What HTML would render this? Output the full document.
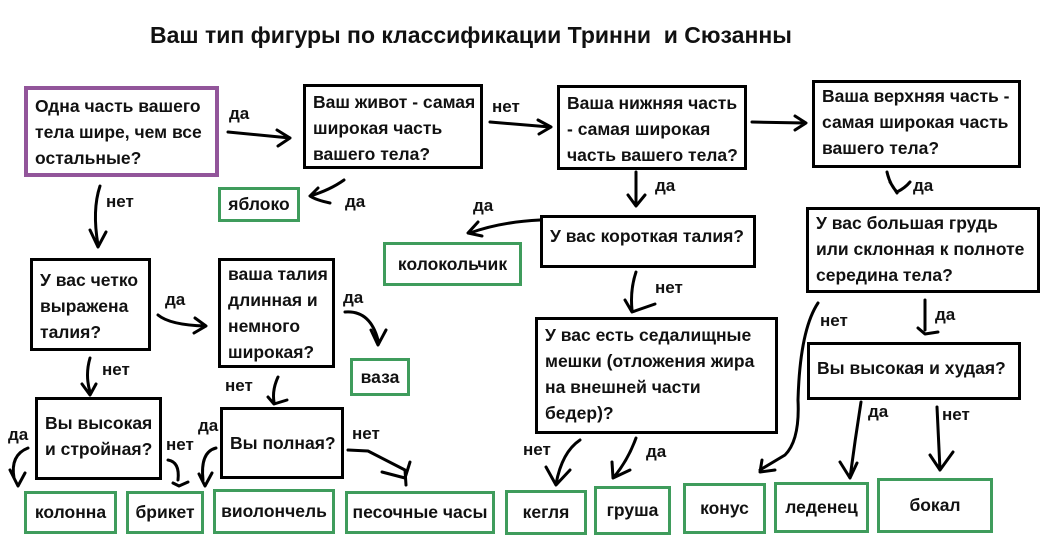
<!DOCTYPE html>
<html><head><meta charset="utf-8"><style>
body{margin:0;width:1050px;height:554px;background:#fff;position:relative;overflow:hidden;font-family:"Liberation Sans","DejaVu Sans",sans-serif;font-weight:bold;color:#111}
.b{position:absolute;border:3px solid #000;box-sizing:border-box;font-size:17.5px;line-height:26px;padding:3px 7px;white-space:nowrap}
.g{position:absolute;border:3px solid #3f9c5c;box-sizing:border-box;font-size:17.5px;display:flex;align-items:center;justify-content:center}
.l{position:absolute;font-size:17px}
svg{position:absolute;left:0;top:0}
</style></head><body>
<div class="l" style="left:150px;top:22px;font-size:23px">Ваш тип фигуры по классификации Тринни&nbsp; и Сюзанны</div>
<div class="b" style="left:24px;top:86px;width:195px;height:91px;border:4px solid #92559a;padding-top:3px">Одна часть вашего<br>тела шире, чем все<br>остальные?</div>
<div class="b" style="left:303px;top:84px;width:180px;height:85px;padding-top:2px">Ваш живот - самая<br>широкая часть<br>вашего тела?</div>
<div class="b" style="left:557px;top:85px;width:190px;height:85px;padding-top:2px">Ваша нижняя часть<br>- самая широкая<br>часть вашего тела?</div>
<div class="b" style="left:812px;top:80px;width:209px;height:88px;padding-top:0px">Ваша верхняя часть -<br>самая широкая часть<br>вашего тела?</div>
<div class="b" style="left:540px;top:215px;width:216px;height:53px;padding-top:5px">У вас короткая талия?</div>
<div class="b" style="left:806px;top:207px;width:234px;height:86px;padding-top:0px">У вас большая грудь<br>или склонная к полноте<br>середина тела?</div>
<div class="b" style="left:807px;top:342px;width:214px;height:58px;padding-top:10px">Вы высокая и худая?</div>
<div class="b" style="left:535px;top:317px;width:243px;height:117px;padding-top:2px">У вас есть седалищные<br>мешки (отложения жира<br>на внешней части<br>бедер)?</div>
<div class="b" style="left:30px;top:258px;width:121px;height:93px;padding-top:6px">У вас четко<br>выражена<br>талия?</div>
<div class="b" style="left:218px;top:258px;width:117px;height:110px;padding-top:0px">ваша талия<br>длинная и<br>немного<br>широкая?</div>
<div class="b" style="left:35px;top:397px;width:127px;height:83px;padding-top:10px">Вы высокая<br>и стройная?</div>
<div class="b" style="left:220px;top:407px;width:124px;height:72px;padding-top:20px">Вы полная?</div>
<div class="g" style="left:218px;top:187px;width:82px;height:35px">яблоко</div>
<div class="g" style="left:383px;top:242px;width:139px;height:44px">колокольчик</div>
<div class="g" style="left:350px;top:358px;width:60px;height:38px">ваза</div>
<div class="g" style="left:24px;top:491px;width:93px;height:43px">колонна</div>
<div class="g" style="left:126px;top:491px;width:78px;height:43px">брикет</div>
<div class="g" style="left:213px;top:489px;width:122px;height:45px">виолончель</div>
<div class="g" style="left:345px;top:491px;width:150px;height:43px">песочные часы</div>
<div class="g" style="left:505px;top:490px;width:82px;height:45px">кегля</div>
<div class="g" style="left:594px;top:486px;width:77px;height:49px">груша</div>
<div class="g" style="left:683px;top:483px;width:83px;height:51px">конус</div>
<div class="g" style="left:774px;top:482px;width:95px;height:51px">леденец</div>
<div class="g" style="left:877px;top:478px;width:116px;height:55px">бокал</div>
<div class="l" style="left:229px;top:104px">да</div>
<div class="l" style="left:492px;top:97px">нет</div>
<div class="l" style="left:106px;top:192px">нет</div>
<div class="l" style="left:345px;top:192px">да</div>
<div class="l" style="left:473px;top:196px">да</div>
<div class="l" style="left:655px;top:176px">да</div>
<div class="l" style="left:913px;top:176px">да</div>
<div class="l" style="left:655px;top:278px">нет</div>
<div class="l" style="left:165px;top:290px">да</div>
<div class="l" style="left:343px;top:288px">да</div>
<div class="l" style="left:820px;top:311px">нет</div>
<div class="l" style="left:935px;top:305px">да</div>
<div class="l" style="left:102px;top:360px">нет</div>
<div class="l" style="left:225px;top:376px">нет</div>
<div class="l" style="left:8px;top:425px">да</div>
<div class="l" style="left:166px;top:435px">нет</div>
<div class="l" style="left:198px;top:416px">да</div>
<div class="l" style="left:352px;top:424px">нет</div>
<div class="l" style="left:868px;top:402px">да</div>
<div class="l" style="left:942px;top:405px">нет</div>
<div class="l" style="left:523px;top:440px">нет</div>
<div class="l" style="left:646px;top:442px">да</div>
<svg width="1050" height="554" fill="none" stroke="#000" stroke-width="3" stroke-linecap="round" stroke-linejoin="round">
<path d="M228 132 L290 138 M277 130 L290 138 L278 146"/>
<path d="M490 122 L550 127 M538 120 L551 127 L539 134"/>
<path d="M752 122 L805 123 M795 116 L806 123 L795 130"/>
<path d="M344 180 Q330 190 310 196 Q316 200 330 203 M310 196 L318 188"/>
<path d="M100 186 Q92 210 98 245 M90 230 L98 247 L106 232"/>
<path d="M636 172 L636 205 M628 195 L636 206 L645 195"/>
<path d="M887 172 Q890 185 897 192 Q905 188 910 182 M890 182 L897 193"/>
<path d="M540 220 Q500 222 470 233 M478 222 L468 233 L482 236"/>
<path d="M636 272 Q630 290 632 310 M625 300 L632 312 L655 304"/>
<path d="M158 315 Q170 325 205 326 M195 318 L206 326 L194 333"/>
<path d="M345 312 Q370 310 378 340 M371 330 L378 345 L386 330"/>
<path d="M925 300 L925 330 M918 328 L925 334 L938 332"/>
<path d="M90 358 Q85 375 90 392 M82 384 L90 395 L96 384"/>
<path d="M278 377 Q272 390 274 402 M268 397 L274 404 L287 400"/>
<path d="M818 303 Q800 330 798 400 Q800 440 785 455 L760 470 M762 460 L760 472 L775 470"/>
<path d="M28 448 Q10 455 14 478 M10 470 L18 486 L25 473"/>
<path d="M168 460 Q180 462 178 480 M173 483 L179 486 L188 482"/>
<path d="M216 448 Q200 452 203 480 M199 474 L205 486 L212 473"/>
<path d="M348 450 L368 451 L405 470 L406 485 M382 472 L405 478 L410 462"/>
<path d="M580 440 Q562 452 556 484 M546 467 L556 485 L570 470"/>
<path d="M636 438 Q628 460 614 477 M612 462 L613 478 L630 470"/>
<path d="M861 402 Q855 440 850 478 M840 462 L850 478 L857 463"/>
<path d="M937 407 L940 470 M930 455 L940 470 L953 452"/>
</svg>
</body></html>
